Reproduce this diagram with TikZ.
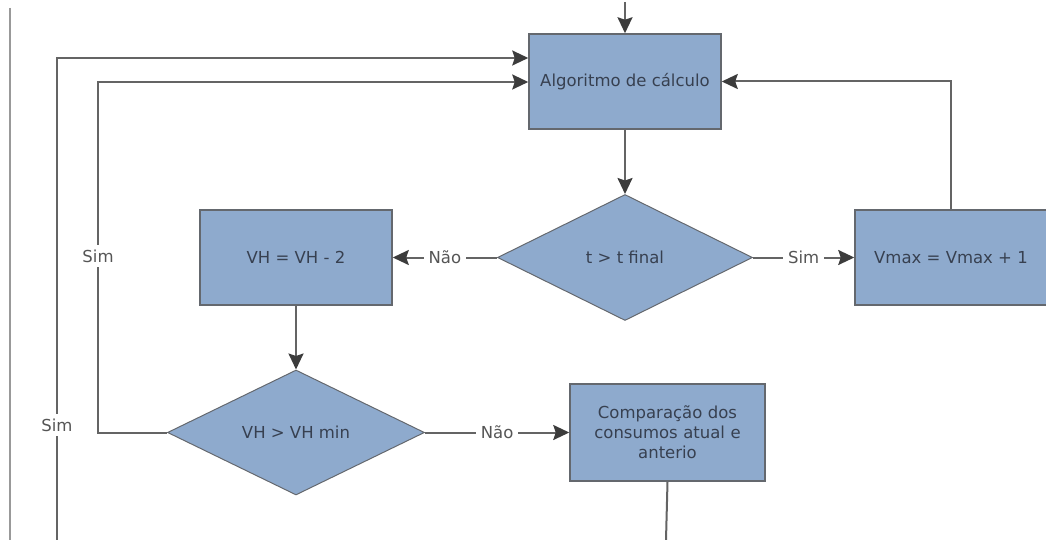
\documentclass[tikz,border=0pt]{standalone}
\usepackage{fontspec}
\setmainfont{DejaVu Sans}
\usetikzlibrary{shapes.geometric,arrows.meta}
\definecolor{boxfill}{RGB}{142,170,205}
\definecolor{boxline}{RGB}{100,104,110}
\definecolor{txt}{RGB}{55,64,80}
\definecolor{conn}{RGB}{100,100,100}
\definecolor{tip}{RGB}{60,60,60}
\definecolor{lbl}{RGB}{85,85,85}
\tikzset{
  procbox/.style={draw=boxline, line width=1.5pt, fill=boxfill, rectangle, inner sep=0pt,
    text=txt, font=\fontsize{16.5}{20}\selectfont, align=center},
  decbox/.style={draw=boxline, line width=1pt, fill=boxfill, diamond, aspect=2, inner sep=0pt,
    text=txt, font=\fontsize{16.5}{20}\selectfont},
  conline/.style={draw=conn, line width=2pt},
  arr/.style={conline, -{Stealth[length=16pt,width=15pt,inset=2.5pt,color=tip]}},
  lab/.style={fill=white, text=lbl, inner sep=5pt, font=\fontsize{16.5}{20}\selectfont}
}
\begin{document}
\begin{tikzpicture}[x=1pt,y=-1pt]
\useasboundingbox (0,0) rectangle (1046,540);
% nodes
\node[procbox, minimum width=192, minimum height=95] (alg) at (625,81.5) {Algoritmo de cálculo};
\node[decbox, minimum width=255, minimum height=126] (d1) at (625,257.5) {t > t final};
\node[procbox, minimum width=192, minimum height=95] (vh) at (296,257.5) {VH = VH - 2};
\node[procbox, minimum width=192, minimum height=95] (vmax) at (951,257.5) {Vmax = Vmax + 1};
\node[decbox, minimum width=257, minimum height=125] (d2) at (296,432.5) {VH > VH min};
\node[procbox, minimum width=195, minimum height=97, text width=185] (comp) at (667.5,432.5) {Comparação dos\\consumos atual e\\anterio};
% coordinates
\coordinate (top) at (625,2);
\coordinate (l1) at (10,8);
\coordinate (l2) at (10,540);
\coordinate (s1b) at (57,540);
\coordinate (s1t) at (57,58);
\coordinate (s2) at (98,432.5);
\coordinate (s2t) at (98,82);
\coordinate (vt) at (951,81.5);
\coordinate (cb) at (666,540);
% connectors
\draw[conline, draw=gray!80] (l1) -- (l2);
\draw[arr] (top) -- (alg.north);
\draw[arr] (alg.south) -- (d1.north);
\draw[arr] (d1.west) -- (vh.east) node[lab, pos=0.5] (n1) {Não};
\draw[arr] (d1.east) -- (vmax.west) node[lab, pos=0.5] (y1) {Sim};
\draw[arr] (vmax.north) -- (vt) -- (alg.east);
\draw[arr] (vh.south) -- (d2.north);
\draw[arr] (d2.east) -- (comp.west |- d2.east) node[lab, pos=0.5] (n2) {Não};
\draw[arr] (d2.west) -- (s2) -- (s2t) -- (alg.west |- s2t);
\draw[arr] (s1b) -- (s1t) -- (alg.west |- s1t);
\draw[conline] (comp.south) -- (cb);
% labels on vertical lines
\node[lab] (y2) at (98,256) {Sim};
\node[lab] (y3) at (57,425) {Sim};
\end{tikzpicture}
\end{document}
